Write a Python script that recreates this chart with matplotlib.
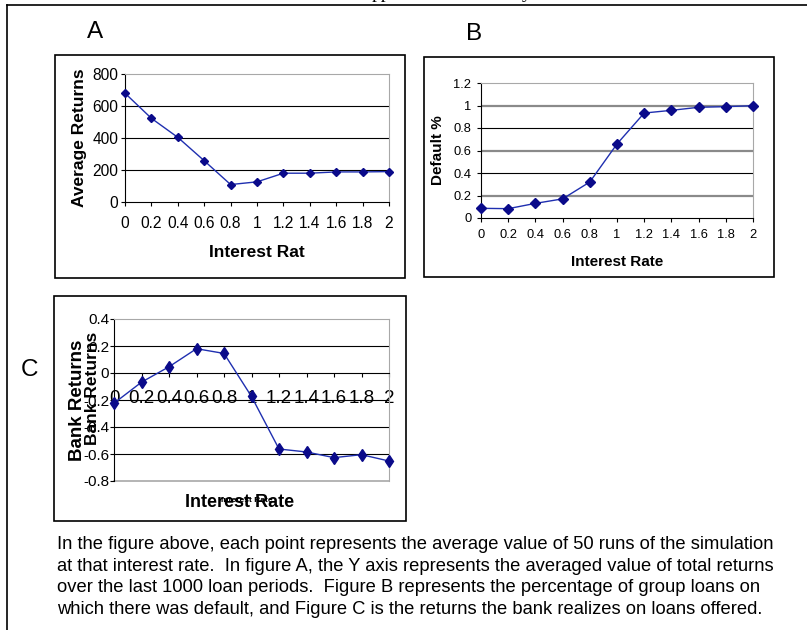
import numpy as np
import matplotlib
matplotlib.use('Agg')
import matplotlib.pyplot as plt
from matplotlib.patches import Rectangle
from matplotlib import font_manager

# values
rates = ['0', '0.2', '0.4', '0.6', '0.8', '1', '1.2', '1.4', '1.6', '1.8', '2']
avg_returns = [680, 523, 404, 258, 109, 126, 180, 180, 188, 188, 190]
default_pct = [0.086, 0.083, 0.13, 0.17, 0.32, 0.658, 0.933, 0.957, 0.984, 0.99, 0.998]
bank_returns = [-0.224, -0.068, 0.046, 0.18, 0.145, -0.174, -0.563, -0.585, -0.627, -0.605, -0.652]

a_yticks = [0, 200, 400, 600, 800]
b_yticks = [0, 0.2, 0.4, 0.6, 0.8, 1.0, 1.2]
b_ylabels = ['0', '0.2', '0.4', '0.6', '0.8', '1', '1.2']
c_yticks = [-0.8, -0.6, -0.4, -0.2, 0, 0.2, 0.4]
c_ylabels = ['-0.8', '-0.6', '-0.4', '-0.2', '0', '0.2', '0.4']

caption = [
    "In the figure above, each point represents the average value of 50 runs of the simulation",
    "at that interest rate.  In figure A, the Y axis represents the averaged value of total returns",
    "over the last 1000 loan periods.  Figure B represents the percentage of group loans on",
    "which there was default, and Figure C is the returns the bank realizes on loans offered.",
]

W, H = 807, 630
plt.rcParams['font.family'] = ['Liberation Sans', 'DejaVu Sans']
plt.rcParams['axes.unicode_minus'] = False

LINE = '#1f2fb0'
MARK = '#0a0a8a'
GRAY = '#8a8a8a'
LIGHT = '#a8a8a8'

fig = plt.figure(figsize=(W / 100, H / 100), dpi=100)


def px_axes(x0, y0, x1, y1):
    return fig.add_axes([x0 / W, 1 - y1 / H, (x1 - x0) / W, (y1 - y0) / H])


def box(x0, y0, x1, y1, lw=1.2):
    fig.add_artist(Rectangle((x0 / W, 1 - y1 / H), (x1 - x0) / W, (y1 - y0) / H,
                             transform=fig.transFigure, fill=False, lw=lw, ec='black'))


x = np.arange(len(rates))

# page frame (top and left rule) and clipped heading above
fig.add_artist(plt.Line2D([7 / W, 1], [1 - 4.5 / H, 1 - 4.5 / H], transform=fig.transFigure, color='black', lw=1.2))
fig.add_artist(plt.Line2D([7 / W, 7 / W], [0, 1 - 4.5 / H], transform=fig.transFigure, color='black', lw=1.2))
fig.text(381 / W, 1 + 2 / H, 'pp', family='Liberation Serif', fontsize=14, ha='center', va='baseline')
fig.text(527 / W, 1 + 2 / H, 'y', family='Liberation Serif', fontsize=14, ha='center', va='baseline')

box(55, 55, 405, 278)
box(424, 57, 774, 277)
box(54, 296, 406, 521)

fig.text(95 / W, 1 - 32 / H, 'A', fontsize=17.5, ha='center', va='center')
fig.text(474 / W, 1 - 34 / H, 'B', fontsize=17.5, ha='center', va='center')
fig.text(30 / W, 1 - 370 / H, 'C', fontsize=17.5, ha='center', va='center')

# ---- A
ax = px_axes(125, 74, 389, 202)
ax.set_xlim(0, len(rates) - 1)
ax.set_ylim(0, 800)
for v in [200, 400, 600]:
    ax.axhline(v, color='black', lw=0.8, zorder=1)
ax.plot(x, avg_returns, color=LINE, lw=1, marker='D', ms=4.5, mfc=MARK, mec=MARK, zorder=3, clip_on=False)
ax.set_xticks(x, rates)
ax.set_yticks(a_yticks)
ax.tick_params(direction='out', length=3, width=0.8, labelsize=11.2, color='black')
ax.tick_params(axis='x', pad=7)
ax.tick_params(axis='y', pad=2)
ax.spines['top'].set_color(LIGHT)
ax.spines['right'].set_color(LIGHT)
for s in ax.spines.values():
    s.set_linewidth(0.8)
ax.set_ylabel('Average Returns', fontsize=12.5, fontweight='bold', va='center')
ax.yaxis.set_label_coords(-0.172, 0.5)
ax.set_xlabel('Interest Rat', fontsize=12.5, fontweight='bold', va='center')
ax.xaxis.set_label_coords(0.5, -0.398)

# ---- B
ax = px_axes(481, 83, 753, 218)
ax.set_xlim(0, len(rates) - 1)
ax.set_ylim(0, 1.2)
for v, c, w in [(0.2, GRAY, 1.6), (0.4, 'black', 0.8), (0.6, GRAY, 1.6), (0.8, 'black', 0.8), (1.0, GRAY, 1.6)]:
    ax.axhline(v, color=c, lw=w, zorder=1)
ax.plot(x, default_pct, color=LINE, lw=1, marker='D', ms=5.5, mfc=MARK, mec=MARK, zorder=3, clip_on=False)
ax.set_xticks(x, rates)
ax.set_yticks(b_yticks, b_ylabels)
ax.tick_params(direction='out', length=3, width=0.8, labelsize=9.3, color='black')
ax.tick_params(axis='x', pad=5)
ax.tick_params(axis='y', pad=4)
ax.spines['top'].set_color(LIGHT)
ax.spines['right'].set_color(LIGHT)
for s in ax.spines.values():
    s.set_linewidth(0.8)
ax.set_ylabel('Default %', fontsize=11, fontweight='bold', va='center')
ax.yaxis.set_label_coords(-0.158, 0.5)
ax.set_xlabel('Interest Rate', fontsize=11, fontweight='bold', va='center')
ax.xaxis.set_label_coords(0.5, -0.326)

# ---- C
ax = px_axes(114, 319, 389, 481)
ax.set_xlim(0, len(rates) - 1)
ax.set_ylim(-0.8, 0.4)
for v in [0.2, -0.2, -0.4, -0.6]:
    ax.axhline(v, color='black', lw=0.8, zorder=1)
ax.axhline(-0.8, color=LIGHT, lw=1.2, zorder=1, clip_on=False)
ax.plot(x, bank_returns, color=LINE, lw=1, marker='d', ms=6.5, mfc=MARK, mec=MARK, zorder=3, clip_on=False)
ax.spines['bottom'].set_position(('data', 0))
ax.set_xticks(x, rates)
ax.set_yticks(c_yticks, c_ylabels)
ax.tick_params(direction='out', length=3, width=0.8, color='black')
ax.tick_params(axis='x', pad=9, labelsize=13.5)
ax.tick_params(axis='y', pad=0.5, labelsize=11)
ax.spines['top'].set_color(LIGHT)
ax.spines['right'].set_color(LIGHT)
for s in ax.spines.values():
    s.set_linewidth(0.8)
ax.set_ylabel('Bank Returns', fontsize=13.5, fontweight='bold', va='center')
ax.yaxis.set_label_coords(-0.131, 0.5)
ax.text(-0.078, 0.574, 'Bank Returns', transform=ax.transAxes, fontsize=12.5, fontweight='bold',
        rotation=90, ha='center', va='center')
ax.set_xlabel('Interest Rate', fontsize=13, fontweight='bold', va='center')
ax.xaxis.set_label_coords(0.458, -0.13)
ax.text(0.483, -0.118, 'Interest Rate', transform=ax.transAxes, fontsize=6, fontweight='bold',
        ha='center', va='center')

# ---- caption, sized so the first line spans the same width as the scan
names = {f.name for f in font_manager.fontManager.ttflist}
cap_family = 'Liberation Sans Narrow' if 'Liberation Sans Narrow' in names else 'Liberation Sans'
texts = []
for i, line in enumerate(caption):
    texts.append(fig.text(57 / W, 1 - (549 + 21.7 * i) / H, line, family=cap_family,
                          fontsize=11, ha='left', va='baseline'))
r = fig.canvas.get_renderer()
w0 = texts[0].get_window_extent(r).width
for t in texts:
    t.set_fontsize(11 * 718 / w0)

fig.savefig('out.png', dpi=100)
